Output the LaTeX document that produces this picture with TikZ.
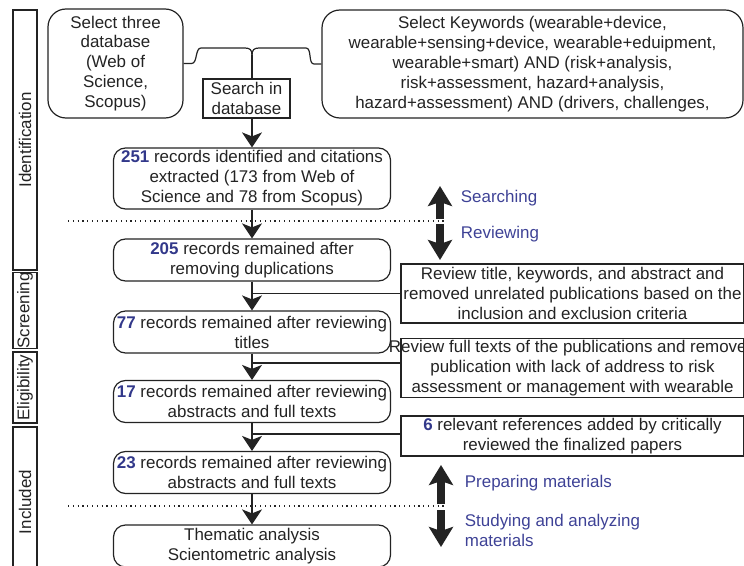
\documentclass[tikz,border=0pt]{standalone}
\usepackage{fontspec}
\setmainfont{Liberation Sans}
\usetikzlibrary{arrows.meta,positioning}
\definecolor{ink}{RGB}{35,35,35}
\definecolor{numblue}{RGB}{50,56,138}
\definecolor{lblblue}{RGB}{62,66,150}
\newcommand{\recnum}[1]{\textcolor{numblue}{\textbf{#1}}}

\begin{document}
\begin{tikzpicture}[x=1bp, y=-1bp, color=ink, line width=1.2bp,
    font=\fontsize{17}{20}\selectfont,
    rbox/.style={draw, rounded corners=12bp, align=center, inner sep=2bp,
      minimum width=277bp, minimum height=42bp},
    sbox/.style={draw, align=center, inner sep=2bp, minimum width=343bp},
    phase/.style={draw, rotate=90, inner sep=0pt, minimum height=24bp},
    arr/.style={-{Stealth[length=15bp,width=20bp,inset=4bp]}},
    fatarr/.style={line width=8bp, -{Stealth[length=20bp,width=24bp,inset=4bp]}},
    divider/.style={dash pattern=on 1.2bp off 3.6bp, line width=1.4bp},
    lbl/.style={anchor=west, text=lblblue, align=left}]
  \useasboundingbox (0,0) rectangle (744,566);
  \clip (0,0) rectangle (744,566);
  % phases
  \node[phase, minimum width=260bp] (ident) at (25,140) {Identification};
  \node[phase, minimum width=73bp] (screen) at (25,310.5) {Screening};
  \node[phase, minimum width=71bp] (elig) at (25,387.5) {Eligibility};
  \node[phase, minimum width=150bp] (incl) at (25,502) {Included};
  % identification
  \node[draw, rounded corners=18bp, align=center, inner sep=2bp,
    minimum width=135bp, minimum height=109bp] (db) at (115.5,63.5)
    {Select three\\database\\(Web of\\Science,\\Scopus)};
  \node[draw, align=center, inner sep=2bp, minimum width=87bp,
    minimum height=39bp] (search) at (246.5,98.5) {Search in\\database};
  \node[draw, rounded corners=18bp, align=center, inner sep=2bp,
    minimum width=421bp, minimum height=108bp] (kw) at (532.5,64)
    {Select Keywords (wearable+device,\\
     wearable+sensing+device, wearable+eduipment,\\
     wearable+smart) AND (risk+analysis,\\
     risk+assessment, hazard+analysis,\\
     hazard+assessment) AND (drivers, challenges,};
  \coordinate (tip) at (252,55);
  \draw (db.east) -- ++(8,0) .. controls +(6,0) and +(-6,0) .. (201,48)
    -- (245,48) .. controls (250,48) and (252,50) .. (tip);
  \draw (tip) .. controls (252,50) and (254,48) .. (259,48) -- (306,48)
    .. controls (312,48) and (308,64) .. (314,64) -- (kw.west);
  \draw (tip) -- (search.north -| tip);
  % records
  \node[rbox, minimum height=61bp] (n251) at (252,178.5)
    {\recnum{251} records identified and citations\\extracted (173 from Web of\\Science and 78 from Scopus)};
  \node[rbox] (n205) at (252,260) {\recnum{205} records remained after\\removing duplications};
  \node[rbox] (n77) at (252,332) {\recnum{77} records remained after reviewing\\titles};
  \node[rbox] (n17) at (252,401.5) {\recnum{17} records remained after reviewing\\abstracts and full texts};
  \node[rbox] (n23) at (252,472.5) {\recnum{23} records remained after reviewing\\abstracts and full texts};
  \node[rbox] (them) at (252,546) {Thematic analysis\\Scientometric analysis};
  \draw[arr] (search.south -| tip) -- (n251);
  \draw[arr] (n251) -- (n205);
  \draw[arr] (n205) -- (n77);
  \draw[arr] (n77) -- (n17);
  \draw[arr] (n17) -- (n23);
  \draw[arr] (n23) -- (them);
  % review steps
  \node[sbox, minimum height=59bp] (rev1) at (572.5,293.5)
    {Review title, keywords, and abstract and\\removed unrelated publications based on the\\inclusion and exclusion criteria};
  \node[sbox, minimum height=58bp] (rev2) at (572.5,368)
    {\makebox[0pt]{Review full texts of the publications and removed}\\publication with lack of address to risk\\assessment or management with wearable};
  \node[sbox, minimum height=40bp] (rev3) at (572.5,436)
    {\recnum{6} relevant references added by critically\\reviewed the finalized papers};
  \coordinate (j2) at ([yshift=5bp]rev2.west);
  \coordinate (j3) at ([yshift=2bp]rev3.west);
  \draw (n205.south |- rev1.west) -- (rev1.west);
  \draw (n77.south |- j2) -- (j2);
  \draw (n17.south |- j3) -- (j3);
  % stages
  \draw[divider] (68,221) -- (445,221);
  \draw[divider] (68,506) -- (445,506);
  \draw[fatarr] (440,219) -- (440,186);
  \draw[fatarr] (440,224) -- (440,260);
  \draw[fatarr] (441,504) -- (441,465);
  \draw[fatarr] (441,510) -- (441,547);
  \node[lbl] (searching) at (457,198) {Searching};
  \node[lbl] (reviewing) at (457,234) {Reviewing};
  \node[lbl] (preparing) at (461,483) {Preparing materials};
  \node[lbl] (studying) at (461,530) {Studying and analyzing\\materials};
\end{tikzpicture}
\end{document}
